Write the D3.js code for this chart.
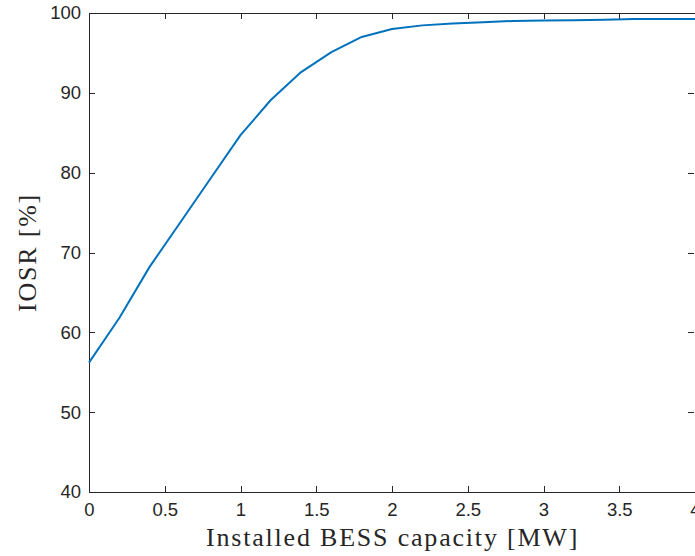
<!DOCTYPE html>
<html>
<head>
<meta charset="utf-8">
<script src="https://cdn.jsdelivr.net/npm/d3@7"></script>
<style>
  html, body { margin: 0; padding: 0; background: #fff; }
  svg { display: block; }
</style>
</head>
<body>
<script>
// BESS capacity sweep (MW) and resulting IOSR (%)
const capacity = [0, 0.2, 0.4, 0.6, 0.8, 1.0, 1.2, 1.4, 1.6, 1.8, 2.0, 2.2, 2.4, 2.6, 2.8, 3.0, 3.2, 3.4, 3.6, 3.8, 4.0];
const iosr = [56.2, 61.8, 68.2, 73.7, 79.2, 84.7, 89.1, 92.6, 95.1, 97.0, 98.0, 98.45, 98.7, 98.85, 99.0, 99.05, 99.1, 99.15, 99.25, 99.25, 99.25];
const xTicks = [0, 0.5, 1, 1.5, 2, 2.5, 3, 3.5, 4];
const yTicks = [40, 50, 60, 70, 80, 90, 100];

const W = 695, H = 556;
const m = { left: 89, right: 0, top: 13, bottom: 64 };

const svg = d3.select("body").append("svg").attr("width", W).attr("height", H);

const x = d3.scaleLinear().domain([0, 4]).range([m.left, W - m.right]);
const y = d3.scaleLinear().domain([40, 100]).range([H - m.bottom, m.top]);

const axisColor = "#262626";
const tickFont = "'Liberation Sans', Arial, sans-serif";
const labelFont = "'Liberation Serif', 'Times New Roman', serif";

// box outline
svg.append("rect")
  .attr("x", x(0)).attr("y", y(100))
  .attr("width", x(4) - x(0)).attr("height", y(40) - y(100))
  .attr("fill", "none").attr("stroke", axisColor).attr("stroke-width", 1).attr("shape-rendering", "crispEdges");

// inward ticks on all four sides
const tickLen = 6;
function styleAxis(g) {
  g.select(".domain").remove();
  g.selectAll(".tick line").attr("stroke", axisColor).attr("shape-rendering", "crispEdges");
  g.selectAll(".tick text").attr("fill", "#262626").style("font-family", tickFont).style("font-size", "18.5px");
}

svg.append("g").attr("transform", `translate(0,${y(40)})`)
  .call(d3.axisBottom(x).tickValues(xTicks).tickFormat(d3.format("")).tickSize(-tickLen).tickPadding(11))
  .call(styleAxis);
svg.append("g").attr("transform", `translate(0,${y(100)})`)
  .call(d3.axisTop(x).tickValues(xTicks).tickFormat("").tickSize(-tickLen))
  .call(styleAxis);
svg.append("g").attr("transform", `translate(${x(0)},0)`)
  .call(d3.axisLeft(y).tickValues(yTicks).tickFormat(d3.format("")).tickSize(-tickLen).tickPadding(8))
  .call(styleAxis);
svg.append("g").attr("transform", `translate(${x(4) - 1},0)`)
  .call(d3.axisRight(y).tickValues(yTicks).tickFormat("").tickSize(-tickLen))
  .call(styleAxis);

// data line
const line = d3.line().x((d, i) => x(capacity[i])).y(d => y(d));
svg.append("path")
  .datum(iosr)
  .attr("d", line)
  .attr("fill", "none")
  .attr("stroke", "#0072BD")
  .attr("stroke-width", 2)
  .attr("stroke-linejoin", "round");

// axis titles
svg.append("text")
  .attr("x", 206).attr("y", 546)
  .style("font-family", labelFont).style("font-size", "26px").style("letter-spacing", "1.8px").attr("fill", "#262626")
  .text("Installed BESS capacity [MW]");
svg.append("text")
  .attr("transform", `translate(36,${(y(40) + y(100)) / 2}) rotate(-90)`)
  .attr("text-anchor", "middle")
  .style("font-family", labelFont).style("font-size", "26px").style("letter-spacing", "1.8px").attr("fill", "#262626")
  .text("IOSR [%]");
</script>
</body>
</html>
